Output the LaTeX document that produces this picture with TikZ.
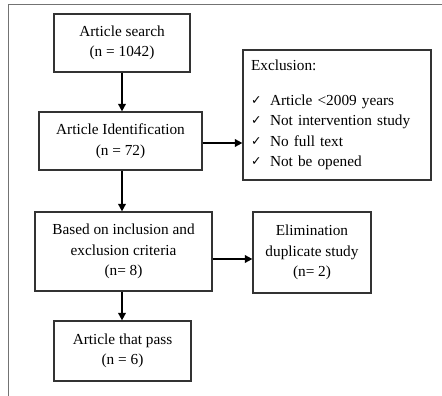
\documentclass[tikz,border=0pt]{standalone}
\usepackage{fontspec}
\setmainfont{Liberation Serif}
\newfontfamily\chkfont{DejaVu Sans}
\usetikzlibrary{arrows.meta}
\newcommand{\chkitem}{\makebox[19pt][l]{\raisebox{1pt}{\chkfont\fontsize{12.5}{12.5}\selectfont ✓}}}
\begin{document}
\begin{tikzpicture}[x=1pt,y=-1pt,
  box/.style={draw=black!80, line width=1.2pt, inner sep=2pt, align=center,
    font=\fontsize{15.3}{20.5}\selectfont, text=black},
  arr/.style={line width=1.8pt, -{Triangle[length=7.5pt,width=7.5pt]}},
  frameline/.style={draw=black!55, line width=1.4pt}]
\useasboundingbox (0,0) rectangle (442,396);
\draw[frameline] (442,4.5) -- (8.5,4.5) -- (8.5,396);
\node[box, minimum width=136pt, minimum height=58pt] (search) at (122,43) {Article search\\(n = 1042)};
\node[box, minimum width=163pt, minimum height=58pt] (ident) at (120.5,141) {Article Identification\\(n = 72)};
\node[box, minimum width=188pt, minimum height=130pt, align=left, text width=172pt, inner sep=0pt] (excl) at (337,115)
  {Exclusion:\\[14pt]
   \chkitem Article <2009 years\\
   \chkitem Not intervention study\\
   \chkitem No full text\\
   \chkitem Not be opened};
\node[box, minimum width=177pt, minimum height=79pt] (based) at (123.5,251.5) {Based on inclusion and\\exclusion criteria\\(n= 8)};
\node[box, minimum width=118pt, minimum height=81pt] (elim) at (312,252.5) {Elimination\\duplicate study\\(n= 2)};
\node[box, minimum width=137pt, minimum height=60pt] (pass) at (122.5,351) {Article that pass\\(n = 6)};
\coordinate (c1) at (122,0);
\draw[arr] (search.south -| c1) -- (ident.north -| c1);
\draw[arr] (ident.south -| c1) -- (based.north -| c1);
\draw[arr] (based.south -| c1) -- (pass.north -| c1);
\coordinate (h1) at (0,143);
\coordinate (h2) at (0,259);
\draw[arr] (ident.east |- h1) -- (excl.west |- h1);
\draw[arr] (based.east |- h2) -- (elim.west |- h2);
\end{tikzpicture}
\end{document}
